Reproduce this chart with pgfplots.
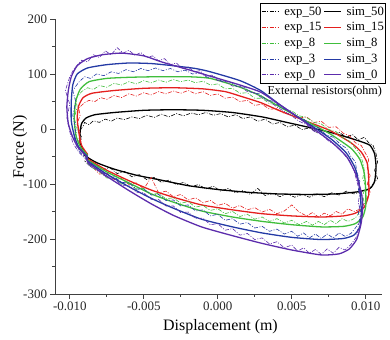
\documentclass[border=0pt]{standalone}
\usepackage{fontspec}
\setmainfont{Liberation Serif}
\usepackage{pgfplots}
\pgfplotsset{compat=1.18}
\definecolor{cblack}{RGB}{0,0,0}
\definecolor{cred}{RGB}{228,32,30}
\definecolor{cgreen}{RGB}{64,190,60}
\definecolor{cblue}{RGB}{36,58,165}
\definecolor{cpurple}{RGB}{92,44,172}
\tikzset{
  expl/.style={line width=0.6pt, dash pattern=on 4pt off 1.5pt on 1pt off 1.5pt},
  siml/.style={line width=1.3pt},
}
\begin{document}
\begin{tikzpicture}
\useasboundingbox (-55bp,-46bp) rectangle (335bp,294bp);
\begin{axis}[
  at={(0,0)}, anchor=south west,
  scale only axis, width=327bp, height=275bp,
  xmin=-0.011, xmax=0.0111, ymin=-300, ymax=200,
  axis x line*=bottom, axis y line*=left,
  axis line style={line width=0.6pt, color=black!75},
  tick style={line width=0.6pt, color=black!75},
  tick align=outside,
  major tick length=4.5bp, minor tick length=2.5bp,
  xtick={-0.01,-0.005,0,0.005,0.01},
  ytick={-300,-200,-100,0,100,200},
  minor x tick num=1, minor y tick num=1,
  scaled x ticks=false,
  /pgf/number format/assume math mode=true,
  xticklabel style={/pgf/number format/.cd, fixed, fixed zerofill, precision=3},
  ticklabel style={font=\fontsize{13}{15}\selectfont, text=black!85},
  xlabel={Displacement (m)}, ylabel={Force (N)},
  label style={font=\fontsize{16}{18}\selectfont},
  xlabel style={at={(axis description cs:0.506,-0.12)}, anchor=center},
  ylabel style={at={(axis description cs:-0.107,0.535)}, anchor=center},
  legend columns=2,
  legend cell align=left,
  legend image post style={line width=1.1pt},
  legend style={at={(axis description cs:1.011,1.058)}, anchor=north east,
    fill=white, font=\fontsize{12.7}{14}\selectfont,
    inner xsep=0.5bp, inner ysep=1.5bp, row sep=1.9bp,
    nodes={inner xsep=1bp, inner ysep=2bp},
    /tikz/every odd column/.append style={column sep=4bp},
    /tikz/every even column/.append style={column sep=1bp}},
]
% exp_50
\addplot[cblack, expl] table {
-0.0088 -55
-0.0091 -40
-0.0093 -28
-0.0092 -15
-0.0094 -5
-0.0091 5
-0.0090 12
-0.0087 8
-0.0084 15
-0.0080 12
-0.0076 18
-0.0072 14
-0.0068 20
-0.0063 17
-0.0058 22
-0.0053 19
-0.0048 25
-0.0043 21
-0.0038 27
-0.0033 22
-0.0028 28
-0.0023 24
-0.0018 29
-0.0013 26
-0.0008 30
-0.0003 25
0.0002 28
0.0007 22
0.0012 26
0.0017 19
0.0022 22
0.0027 14
0.0032 18
0.0037 9
0.0042 12
0.0047 4
0.0052 7
0.0057 -1
0.0062 2
0.0067 -6
0.0072 -3
0.0077 -10
0.0082 -6
0.0087 -15
0.0091 -10
0.0095 -20
0.0099 -15
0.0102 -25
0.0105 -30
0.0107 -45
0.0108 -60
0.0106 -75
0.0108 -90
0.0105 -100
0.0102 -110
0.0097 -114
0.0092 -118
0.0087 -113
0.0082 -120
0.0077 -116
0.0072 -123
0.0067 -118
0.0062 -124
0.0057 -119
0.0052 -124
0.0047 -118
0.0042 -123
0.0037 -117
0.0032 -121
0.0027 -108
0.0022 -119
0.0017 -112
0.0012 -116
0.0007 -108
0.0002 -113
-0.0003 -104
-0.0008 -109
-0.0013 -101
-0.0018 -105
-0.0023 -97
-0.0028 -101
-0.0033 -93
-0.0038 -97
-0.0043 -88
-0.0048 -92
-0.0053 -83
-0.0058 -87
-0.0063 -77
-0.0068 -81
-0.0073 -70
-0.0078 -74
-0.0083 -63
-0.0087 -66
-0.0090 -58
};
\addlegendentry{exp\_50}
% sim_50
\addplot[cblack, siml, smooth, tension=0.35] table {
-0.0090 -42
-0.0093 -25
-0.0093 -5
-0.0092 10
-0.0089 20
-0.0083 26
-0.0070 30
-0.0050 34
-0.0030 35
-0.0010 34
0.0010 30
0.0030 22
0.0045 13
0.0060 4
0.0076 -6
0.0090 -17
0.0098 -24
0.0103 -30
0.0106 -45
0.0107 -70
0.0106 -95
0.0103 -108
0.0095 -114
0.0080 -118
0.0060 -119
0.0040 -118
0.0020 -115
0.0000 -110
-0.0020 -103
-0.0040 -92
-0.0055 -84
-0.0070 -73
-0.0082 -61
-0.0090 -48
-0.0090 -42
};
\addlegendentry{sim\_50}
% exp_15
\addplot[cred, expl] table {
-0.0088 -52
-0.0092 -38
-0.0094 -20
-0.0093 -5
-0.0095 10
-0.0093 25
-0.0094 38
-0.0090 48
-0.0087 52
-0.0083 50
-0.0079 57
-0.0075 54
-0.0070 61
-0.0065 57
-0.0060 64
-0.0055 60
-0.0050 66
-0.0045 62
-0.0040 68
-0.0035 64
-0.0030 69
-0.0025 65
-0.0020 70
-0.0015 64
-0.0010 68
-0.0005 61
0.0000 64
0.0005 56
0.0010 58
0.0015 50
0.0020 52
0.0025 43
0.0030 45
0.0035 36
0.0040 37
0.0045 28
0.0050 29
0.0055 20
0.0060 22
0.0065 12
0.0070 14
0.0075 3
0.0080 4
0.0085 -8
0.0089 -12
0.0093 -25
0.0097 -30
0.0100 -45
0.0102 -55
0.0101 -70
0.0103 -85
0.0101 -100
0.0103 -115
0.0100 -130
0.0097 -145
0.0092 -150
0.0088 -145
0.0084 -155
0.0080 -150
0.0076 -158
0.0072 -153
0.0068 -160
0.0064 -152
0.0060 -158
0.0055 -151
0.0050 -138
0.0045 -149
0.0040 -154
0.0035 -146
0.0030 -151
0.0025 -143
0.0020 -147
0.0015 -139
0.0010 -144
0.0005 -135
0.0000 -139
-0.0005 -130
-0.0010 -134
-0.0015 -125
-0.0020 -129
-0.0025 -119
-0.0030 -123
-0.0035 -113
-0.0040 -116
-0.0045 -88
-0.0050 -109
-0.0055 -98
-0.0060 -101
-0.0065 -90
-0.0070 -92
-0.0075 -80
-0.0080 -82
-0.0085 -68
-0.0088 -60
};
\addlegendentry{exp\_15}
% sim_15
\addplot[cred, siml, smooth, tension=0.35] table {
-0.0088 -46
-0.0092 -30
-0.0094 -5
-0.0095 20
-0.0094 42
-0.0091 57
-0.0085 65
-0.0070 70
-0.0050 74
-0.0030 75
-0.0010 73
0.0005 68
0.0015 60
0.0029 48
0.0042 33
0.0060 14
0.0076 -3
0.0090 -25
0.0097 -42
0.0101 -62
0.0102 -90
0.0102 -120
0.0099 -142
0.0093 -153
0.0085 -158
0.0070 -160
0.0050 -158
0.0030 -154
0.0010 -147
-0.0011 -138
-0.0030 -124
-0.0045 -111
-0.0060 -94
-0.0075 -75
-0.0088 -54
-0.0088 -46
};
\addlegendentry{sim\_15}
% exp_8
\addplot[cgreen, expl] table {
-0.0088 -54
-0.0093 -38
-0.0096 -20
-0.0095 0
-0.0097 20
-0.0095 40
-0.0096 55
-0.0092 68
-0.0088 75
-0.0084 72
-0.0080 79
-0.0075 76
-0.0070 83
-0.0065 80
-0.0060 86
-0.0055 82
-0.0050 88
-0.0045 84
-0.0040 89
-0.0035 85
-0.0030 90
-0.0025 86
-0.0020 89
-0.0015 84
-0.0010 87
-0.0005 80
0.0000 82
0.0005 73
0.0010 74
0.0015 65
0.0020 66
0.0025 56
0.0030 56
0.0035 46
0.0040 45
0.0045 35
0.0050 33
0.0055 24
0.0060 21
0.0065 12
0.0070 9
0.0075 -1
0.0080 -5
0.0085 -17
0.0089 -22
0.0093 -35
0.0096 -45
0.0098 -60
0.0099 -75
0.0098 -90
0.0100 -105
0.0098 -120
0.0099 -135
0.0096 -150
0.0093 -162
0.0088 -168
0.0084 -163
0.0080 -172
0.0076 -166
0.0072 -174
0.0068 -168
0.0064 -175
0.0060 -168
0.0055 -174
0.0050 -166
0.0045 -171
0.0040 -163
0.0035 -168
0.0030 -160
0.0025 -164
0.0020 -155
0.0015 -159
0.0010 -150
0.0005 -154
0.0000 -145
-0.0005 -148
-0.0010 -139
-0.0015 -142
-0.0020 -132
-0.0025 -135
-0.0030 -125
-0.0035 -127
-0.0040 -117
-0.0045 -119
-0.0050 -108
-0.0055 -110
-0.0060 -99
-0.0065 -100
-0.0070 -89
-0.0075 -89
-0.0080 -78
-0.0085 -70
-0.0088 -62
};
\addlegendentry{exp\_8}
% sim_8
\addplot[cgreen, siml, smooth, tension=0.35] table {
-0.0088 -48
-0.0093 -32
-0.0096 -10
-0.0097 20
-0.0096 50
-0.0093 72
-0.0087 86
-0.0075 92
-0.0060 94
-0.0042 95
-0.0020 95
-0.0005 92
0.0015 76
0.0029 60
0.0042 40
0.0060 14
0.0076 -9
0.0090 -35
0.0096 -55
0.0099 -80
0.0100 -110
0.0100 -140
0.0098 -160
0.0093 -172
0.0085 -177
0.0070 -178
0.0050 -174
0.0030 -168
0.0010 -160
-0.0011 -149
-0.0030 -133
-0.0045 -118
-0.0060 -98
-0.0075 -78
-0.0088 -56
-0.0088 -48
};
\addlegendentry{sim\_8}
% exp_3
\addplot[cblue, expl] table {
-0.0088 -56
-0.0094 -40
-0.0097 -20
-0.0096 0
-0.0098 25
-0.0096 50
-0.0098 70
-0.0094 85
-0.0090 95
-0.0086 92
-0.0082 100
-0.0077 97
-0.0072 104
-0.0067 101
-0.0062 108
-0.0057 104
-0.0052 110
-0.0047 106
-0.0042 111
-0.0037 106
-0.0032 110
-0.0027 104
-0.0022 107
-0.0017 100
-0.0012 102
-0.0007 94
-0.0002 95
0.0003 86
0.0008 86
0.0013 77
0.0018 76
0.0023 66
0.0028 64
0.0033 53
0.0038 50
0.0043 38
0.0048 34
0.0053 22
0.0058 18
0.0063 7
0.0068 2
0.0073 -10
0.0078 -15
0.0083 -28
0.0087 -35
0.0090 -50
0.0093 -60
0.0094 -78
0.0096 -95
0.0095 -112
0.0097 -130
0.0095 -150
0.0096 -168
0.0093 -180
0.0090 -190
0.0086 -195
0.0082 -189
0.0078 -198
0.0074 -191
0.0070 -199
0.0066 -191
0.0062 -198
0.0058 -189
0.0054 -195
0.0050 -186
0.0045 -191
0.0040 -182
0.0035 -186
0.0030 -177
0.0025 -180
0.0020 -170
0.0015 -173
0.0010 -163
0.0005 -166
0.0000 -155
-0.0005 -158
-0.0010 -147
-0.0015 -149
-0.0020 -138
-0.0025 -140
-0.0030 -129
-0.0035 -130
-0.0040 -119
-0.0045 -120
-0.0050 -109
-0.0055 -109
-0.0060 -98
-0.0065 -97
-0.0070 -87
-0.0075 -85
-0.0080 -74
-0.0085 -68
-0.0088 -62
};
\addlegendentry{exp\_3}
% sim_3
\addplot[cblue, siml, smooth, tension=0.35] table {
-0.0088 -50
-0.0094 -33
-0.0097 -12
-0.0099 15
-0.0099 50
-0.0098 80
-0.0095 100
-0.0088 111
-0.0075 117
-0.0060 120
-0.0045 119
-0.0030 115
-0.0015 110
-0.0005 104
0.0015 88
0.0029 70
0.0042 44
0.0055 20
0.0065 3
0.0077 -19
0.0087 -44
0.0093 -72
0.0096 -110
0.0097 -150
0.0096 -178
0.0092 -193
0.0085 -199
0.0070 -201
0.0050 -197
0.0030 -189
0.0010 -178
-0.0011 -164
-0.0030 -144
-0.0045 -126
-0.0060 -105
-0.0075 -82
-0.0088 -58
-0.0088 -50
};
\addlegendentry{sim\_3}
% exp_0
\addplot[cpurple, expl] table {
-0.0088 -58
-0.0094 -42
-0.0098 -25
-0.0100 -5
-0.0102 20
-0.0100 45
-0.0103 70
-0.0100 95
-0.0097 110
-0.0092 125
-0.0088 122
-0.0084 135
-0.0080 130
-0.0076 142
-0.0072 135
-0.0068 148
-0.0064 138
-0.0060 143
-0.0056 134
-0.0052 139
-0.0048 130
-0.0044 133
-0.0040 124
-0.0036 128
-0.0032 117
-0.0028 120
-0.0024 110
-0.0020 113
-0.0016 104
-0.0012 106
-0.0008 96
-0.0004 98
0.0000 88
0.0005 87
0.0010 78
0.0015 78
0.0020 68
0.0025 66
0.0030 56
0.0035 50
0.0040 40
0.0045 32
0.0050 24
0.0055 14
0.0060 8
0.0065 -4
0.0070 -10
0.0075 -22
0.0080 -30
0.0085 -45
0.0089 -58
0.0092 -75
0.0094 -95
0.0096 -115
0.0095 -135
0.0097 -155
0.0095 -175
0.0094 -195
0.0090 -210
0.0086 -220
0.0082 -215
0.0078 -226
0.0074 -218
0.0070 -228
0.0066 -219
0.0062 -226
0.0058 -216
0.0054 -222
0.0050 -211
0.0045 -216
0.0040 -205
0.0035 -209
0.0030 -198
0.0025 -201
0.0020 -190
0.0015 -193
0.0010 -181
0.0005 -184
0.0000 -172
-0.0005 -174
-0.0010 -162
-0.0015 -163
-0.0020 -151
-0.0025 -152
-0.0030 -140
-0.0035 -140
-0.0040 -128
-0.0045 -128
-0.0050 -116
-0.0055 -115
-0.0060 -103
-0.0065 -102
-0.0070 -90
-0.0075 -88
-0.0080 -77
-0.0085 -70
-0.0088 -64
};
\addlegendentry{exp\_0}
% sim_0
\addplot[cpurple, siml, smooth, tension=0.35] table {
-0.0088 -52
-0.0094 -35
-0.0098 -15
-0.0101 10
-0.0102 40
-0.0101 70
-0.0099 95
-0.0095 115
-0.0088 128
-0.0078 135
-0.0065 138
-0.0050 133
-0.0038 122
-0.0020 108
-0.0005 96
0.0015 80
0.0029 67
0.0042 44
0.0055 20
0.0065 0
0.0077 -24
0.0087 -50
0.0093 -80
0.0097 -115
0.0098 -140
0.0097 -170
0.0094 -200
0.0089 -218
0.0082 -227
0.0070 -229
0.0050 -220
0.0030 -208
0.0010 -194
-0.0011 -178
-0.0030 -157
-0.0045 -136
-0.0060 -112
-0.0075 -86
-0.0088 -60
-0.0088 -52
};
\addlegendentry{sim\_0}
\node[font=\fontsize{12.2}{14}\selectfont, anchor=center] at (axis description cs:0.825,0.735) {External resistors(ohm)};
\end{axis}
\end{tikzpicture}
\end{document}
